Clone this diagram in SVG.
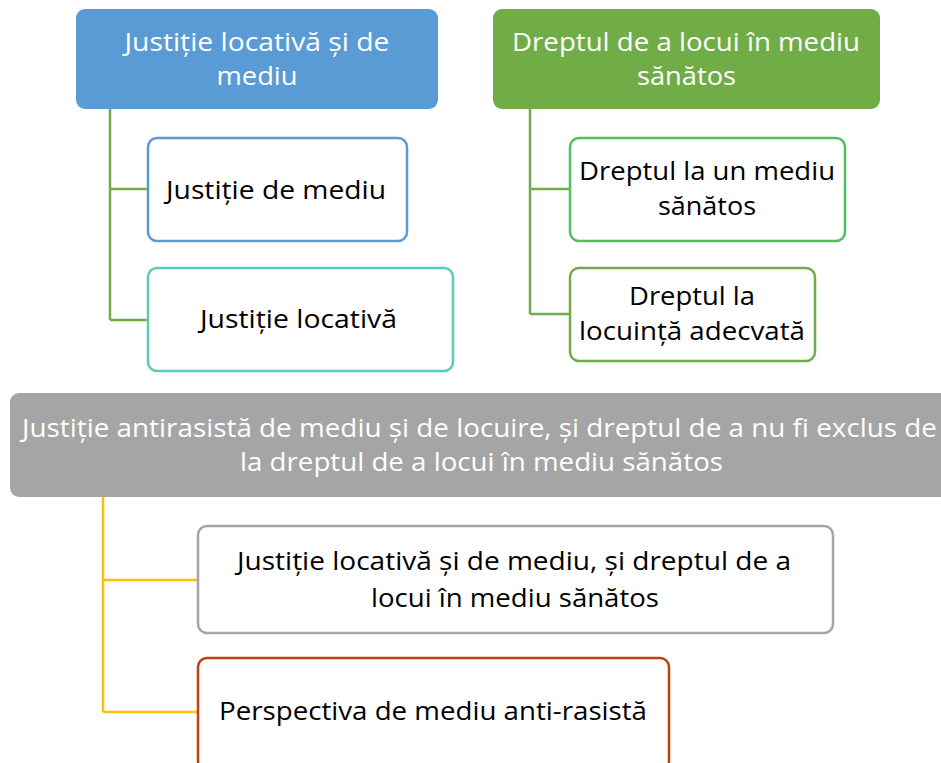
<svg xmlns="http://www.w3.org/2000/svg" width="941" height="763" viewBox="0 0 941 763">
<style>
text{font-family:"Open Sans","Noto Sans","Liberation Sans",sans-serif;font-size:26px;text-anchor:middle}
.w{fill:#ffffff}
.k{fill:#000000}
.box{fill:#ffffff;stroke-width:2.5}
.ln{fill:none;stroke-width:2.5}
</style>
<rect width="941" height="763" fill="#ffffff"/>
<g id="connectors">
<path class="ln" stroke="#70AD47" d="M110 109V320M110 189H148M110 320H148"/>
<path class="ln" stroke="#70AD47" d="M530 109V314M530 189H570M530 314H570"/>
<path class="ln" stroke="#FFC000" d="M103 497V712M103 580H198M103 712H198"/>
</g>
<g id="n1">
<rect x="76" y="9" width="362" height="100" rx="9" fill="#5B9BD5"/>
<text class="w" x="257" y="51" textLength="265" lengthAdjust="spacingAndGlyphs">Justiție locativă și de</text>
<text class="w" x="257" y="85" textLength="81" lengthAdjust="spacingAndGlyphs">mediu</text>
</g>
<g id="n2">
<rect class="box" x="148" y="138" width="259" height="103" rx="9" stroke="#5B9BD5"/>
<text class="k" x="276" y="199" textLength="220" lengthAdjust="spacingAndGlyphs">Justiție de mediu</text>
</g>
<g id="n3">
<rect class="box" x="148" y="268" width="305" height="103" rx="9" stroke="#55CDB8"/>
<text class="k" x="298.5" y="328" textLength="197" lengthAdjust="spacingAndGlyphs">Justiție locativă</text>
</g>
<g id="n4">
<rect x="493" y="9" width="387" height="100" rx="9" fill="#70AD47"/>
<text class="w" x="686" y="51" textLength="348" lengthAdjust="spacingAndGlyphs">Dreptul de a locui în mediu</text>
<text class="w" x="686.5" y="85" textLength="99" lengthAdjust="spacingAndGlyphs">sănătos</text>
</g>
<g id="n5">
<rect class="box" x="570" y="138" width="275" height="103" rx="9" stroke="#52BE62"/>
<text class="k" x="707" y="180" textLength="256" lengthAdjust="spacingAndGlyphs">Dreptul la un mediu</text>
<text class="k" x="707" y="215" textLength="98" lengthAdjust="spacingAndGlyphs">sănătos</text>
</g>
<g id="n6">
<rect class="box" x="570" y="268" width="245" height="93" rx="9" stroke="#70AD47"/>
<text class="k" x="692" y="305" textLength="126" lengthAdjust="spacingAndGlyphs">Dreptul la</text>
<text class="k" x="692" y="340" textLength="226" lengthAdjust="spacingAndGlyphs">locuință adecvată</text>
</g>
<g id="n7">
<rect x="10" y="393" width="945" height="104" rx="9" fill="#A5A5A5"/>
<text class="w" x="479.5" y="437" textLength="915" lengthAdjust="spacingAndGlyphs">Justiție antirasistă de mediu și de locuire, și dreptul de a nu fi exclus de</text>
<text class="w" x="481.5" y="471" textLength="483" lengthAdjust="spacingAndGlyphs">la dreptul de a locui în mediu sănătos</text>
</g>
<g id="n8">
<rect class="box" x="198" y="526" width="635" height="107" rx="9" stroke="#A5A5A5"/>
<text class="k" x="514" y="570" textLength="554" lengthAdjust="spacingAndGlyphs">Justiție locativă și de mediu, și dreptul de a</text>
<text class="k" x="515" y="607" textLength="288" lengthAdjust="spacingAndGlyphs">locui în mediu sănătos</text>
</g>
<g id="n9">
<rect class="box" x="198" y="658" width="471" height="112" rx="9" stroke="#C0400C"/>
<text class="k" x="433" y="720" textLength="428" lengthAdjust="spacingAndGlyphs">Perspectiva de mediu anti-rasistă</text>
</g>
</svg>
